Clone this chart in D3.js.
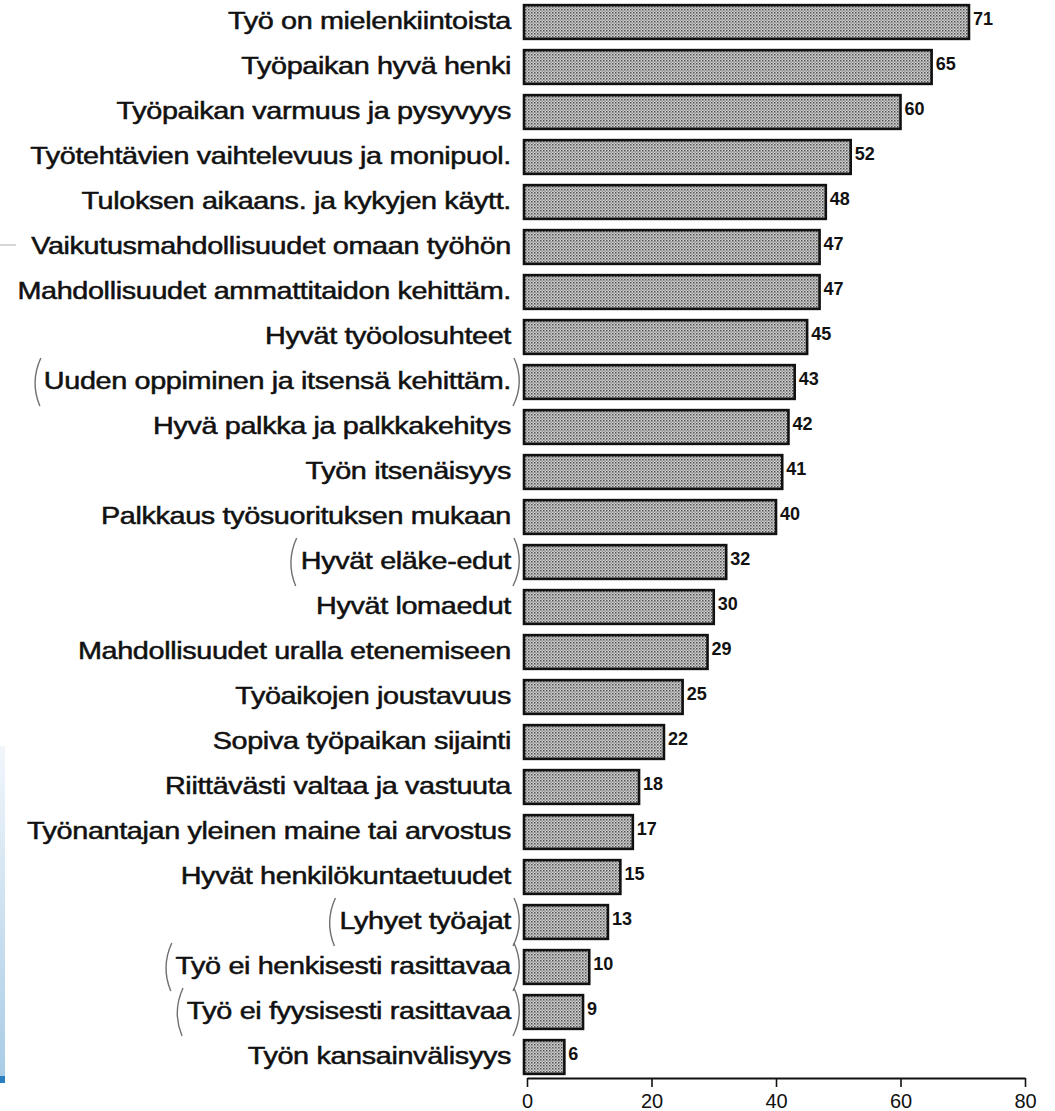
<!DOCTYPE html>
<html>
<head>
<meta charset="utf-8">
<script src="https://cdn.jsdelivr.net/npm/d3@7"></script>
<style>
  body { margin: 0; background: #fff; }
  svg { display: block; }
</style>
</head>
<body>
<div id="chart"></div>
<script>
const categories = [
  "Työ on mielenkiintoista",
  "Työpaikan hyvä henki",
  "Työpaikan varmuus ja pysyvyys",
  "Työtehtävien vaihtelevuus ja monipuol.",
  "Tuloksen aikaans. ja kykyjen käytt.",
  "Vaikutusmahdollisuudet omaan työhön",
  "Mahdollisuudet ammattitaidon kehittäm.",
  "Hyvät työolosuhteet",
  "Uuden oppiminen ja itsensä kehittäm.",
  "Hyvä palkka ja palkkakehitys",
  "Työn itsenäisyys",
  "Palkkaus työsuorituksen mukaan",
  "Hyvät eläke-edut",
  "Hyvät lomaedut",
  "Mahdollisuudet uralla etenemiseen",
  "Työaikojen joustavuus",
  "Sopiva työpaikan sijainti",
  "Riittävästi valtaa ja vastuuta",
  "Työnantajan yleinen maine tai arvostus",
  "Hyvät henkilökuntaetuudet",
  "Lyhyet työajat",
  "Työ ei henkisesti rasittavaa",
  "Työ ei fyysisesti rasittavaa",
  "Työn kansainvälisyys"
];
const values = [71, 65, 60, 52, 48, 47, 47, 45, 43, 42, 41, 40, 32, 30, 29, 25, 22, 18, 17, 15, 13, 10, 9, 6];
// items that were circled by hand with brackets in the original
const bracketed = [
  "Uuden oppiminen ja itsensä kehittäm.",
  "Hyvät eläke-edut",
  "Lyhyet työajat",
  "Työ ei henkisesti rasittavaa",
  "Työ ei fyysisesti rasittavaa"
];
const xTicks = [0, 20, 40, 60, 80];

const width = 1055, height = 1111;
const axisY = 1078;
const labelRight = 511;
const font = "Liberation Sans, Arial, sans-serif";

const svg = d3.select("#chart").append("svg")
  .attr("width", width)
  .attr("height", height);

// dotted screen fill like the printed bars
const defs = svg.append("defs");
const pat = defs.append("pattern")
  .attr("id", "dots")
  .attr("width", 3)
  .attr("height", 3)
  .attr("patternUnits", "userSpaceOnUse");
pat.append("rect").attr("width", 3).attr("height", 3).attr("fill", "#d4d4d4");
pat.append("rect").attr("x", 0).attr("y", 0).attr("width", 1.5).attr("height", 1.5).attr("fill", "#4f4f4f");
pat.append("rect").attr("x", 1.5).attr("y", 1.5).attr("width", 1.3).attr("height", 1.3).attr("fill", "#777");

const grad = defs.append("linearGradient")
  .attr("id", "strip").attr("x1", 0).attr("y1", 0).attr("x2", 0).attr("y2", 1);
grad.append("stop").attr("offset", "0%").attr("stop-color", "#f2f6fb");
grad.append("stop").attr("offset", "100%").attr("stop-color", "#a9cce6");

// scanner edge on the left
svg.append("rect").attr("x", 0).attr("y", 746).attr("width", 5).attr("height", 330).attr("fill", "url(#strip)");
svg.append("rect").attr("x", 0).attr("y", 1076).attr("width", 5).attr("height", 7).attr("fill", "#2a7ec0");
svg.append("line").attr("x1", 0).attr("x2", 16).attr("y1", 245).attr("y2", 245)
  .attr("stroke", "#bbb").attr("stroke-width", 1.2);

const x = d3.scaleLinear().domain([0, 80]).range([527, 1025]);
const y = d3.scaleBand().domain(categories).range([-0.5, 1079.5]).paddingInner(0.25).paddingOuter(0.125);

const data = categories.map((c, i) => ({ name: c, value: values[i] }));

// bars
svg.append("g").selectAll("rect")
  .data(data)
  .enter().append("rect")
  .attr("x", x(0) - 3)
  .attr("y", d => y(d.name))
  .attr("width", d => x(d.value) - x(0) + 3)
  .attr("height", y.bandwidth())
  .attr("fill", "url(#dots)")
  .attr("stroke", "#111")
  .attr("stroke-width", 2.6);

// value labels
svg.append("g").selectAll("text")
  .data(data)
  .enter().append("text")
  .attr("x", d => x(d.value) + 4)
  .attr("y", d => y(d.name) + y.bandwidth() / 2 + 3)
  .attr("font-family", font)
  .attr("font-size", 18)
  .attr("font-weight", "bold")
  .attr("fill", "#111")
  .text(d => d.value);

// category labels (scan letters are wide, so stretch horizontally)
const labels = svg.append("g").selectAll("text")
  .data(data)
  .enter().append("text")
  .attr("transform", d => `translate(${labelRight},${y(d.name) + y.bandwidth() / 2 + 7}) scale(1.2,1)`)
  .attr("text-anchor", "end")
  .attr("font-family", font)
  .attr("font-size", 24)
  .attr("letter-spacing", -0.3)
  .attr("fill", "#111")
  .attr("stroke", "#111")
  .attr("stroke-width", 0.5)
  .text(d => d.name);

// hand drawn brackets
labels.filter(d => bracketed.includes(d.name)).each(function (d) {
  const b = this.getBBox();
  const cy = y(d.name) + y.bandwidth() / 2;
  const top = cy - 24, bot = cy + 24, mid = cy;
  const l = labelRight - b.width * 1.2 - 8, r = labelRight + 7;
  svg.append("path")
    .attr("d", `M${l + 5},${top} Q${l - 6},${mid} ${l + 4},${bot}`)
    .attr("fill", "none").attr("stroke", "#6f6f6f").attr("stroke-width", 1.4);
  svg.append("path")
    .attr("d", `M${r - 4},${top} Q${r + 7},${mid} ${r - 5},${bot}`)
    .attr("fill", "none").attr("stroke", "#6f6f6f").attr("stroke-width", 1.4);
});

// x axis
const xAxis = d3.axisBottom(x).tickValues(xTicks).tickSize(9).tickSizeOuter(0).tickPadding(7);
const ax = svg.append("g")
  .attr("transform", `translate(0,${axisY})`)
  .call(xAxis);
ax.select(".domain").attr("stroke", "#111").attr("stroke-width", 2);
ax.selectAll(".tick line").attr("stroke", "#111").attr("stroke-width", 1.6);
ax.selectAll(".tick text")
  .attr("font-family", font)
  .attr("font-size", 20)
  .attr("fill", "#111");
</script>
</body>
</html>
